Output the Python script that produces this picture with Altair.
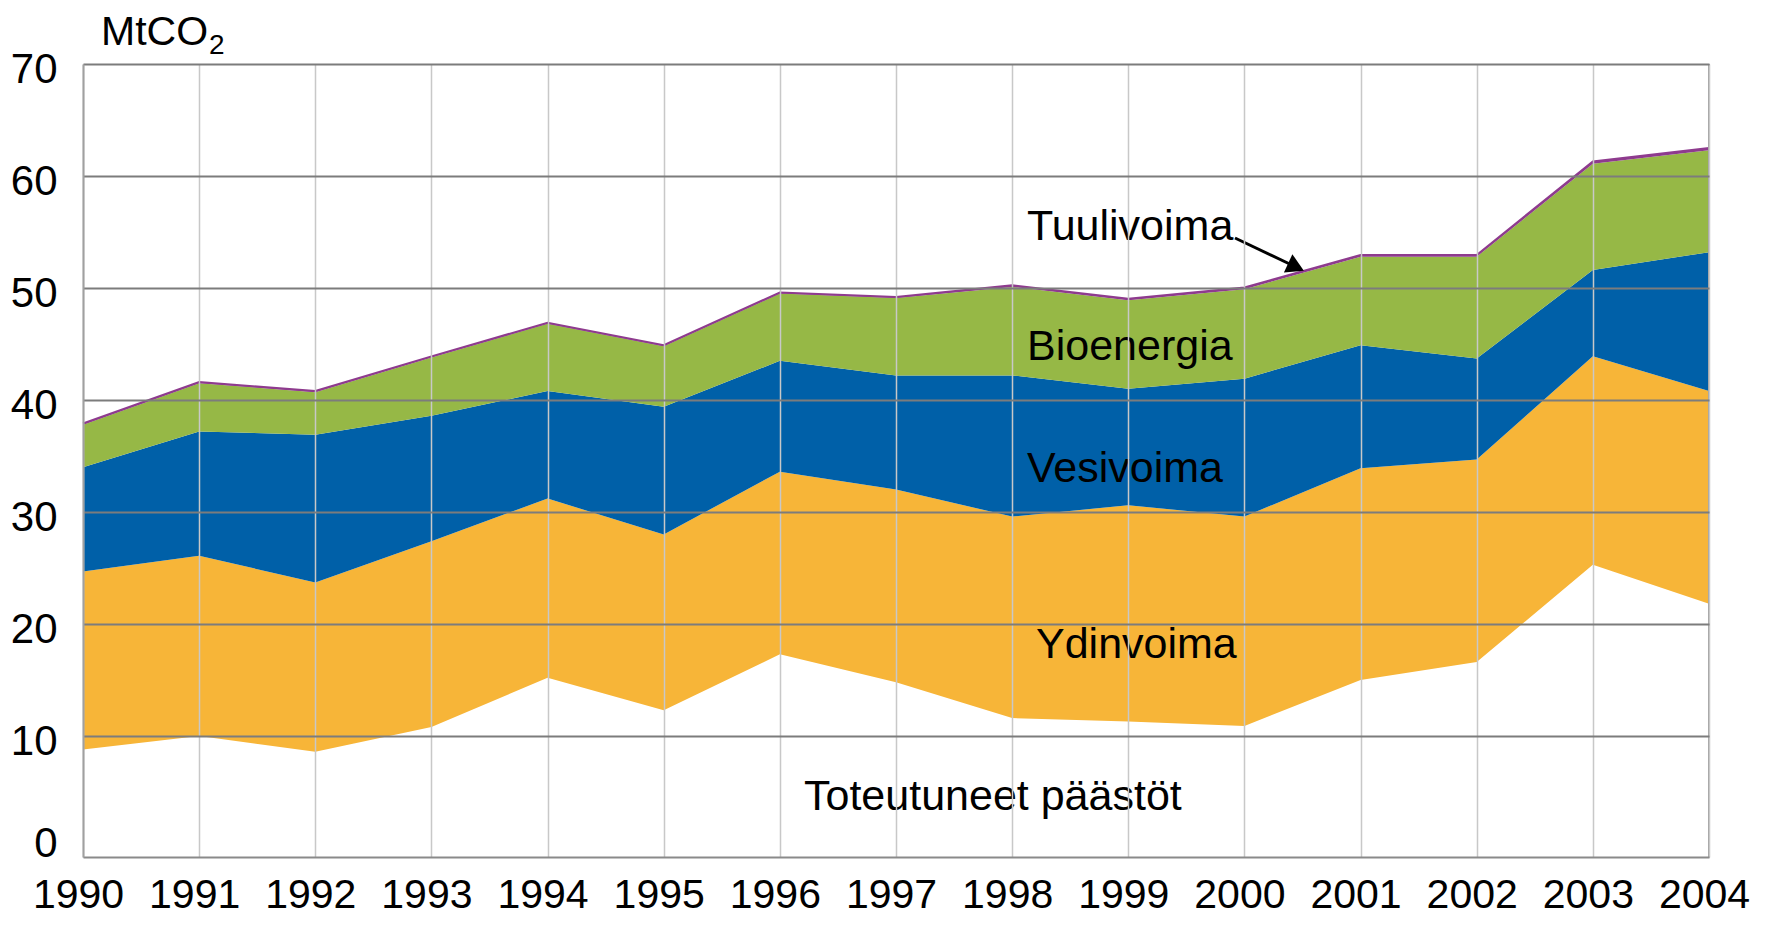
import altair as alt
import pandas as pd

FONT = "Liberation Sans"

years = list(range(1990, 2005))
series = ["Toteutuneet päästöt", "Ydinvoima", "Vesivoima", "Bioenergia", "Tuulivoima"]
colors = ["#ffffff", "#F7B538", "#0060A8", "#96B846", "#8E3B8E"]

toteutuneet = [8.8, 10.0, 8.6, 10.8, 15.2, 12.3, 17.3, 14.8, 11.6, 11.3, 10.9, 15.0, 16.6, 25.3, 21.8]
ydinvoima = [15.9, 16.1, 15.1, 16.6, 16.0, 15.7, 16.3, 17.2, 18.0, 19.3, 18.7, 18.9, 18.1, 18.6, 19.0]
vesivoima = [9.3, 11.1, 13.2, 11.2, 9.6, 11.4, 9.9, 10.2, 12.6, 10.4, 12.3, 11.0, 9.0, 7.7, 12.4]
bioenergia = [3.8, 4.3, 3.8, 5.2, 6.0, 5.4, 6.0, 6.9, 7.9, 7.9, 8.0, 7.9, 9.1, 9.5, 9.1]
tuulivoima = [0.1, 0.1, 0.1, 0.1, 0.1, 0.1, 0.1, 0.1, 0.15, 0.15, 0.15, 0.15, 0.15, 0.2, 0.2]

y_ticks = [0, 10, 20, 30, 40, 50, 60, 70]

rows = []
for order, (name, vals) in enumerate(zip(series, [toteutuneet, ydinvoima, vesivoima, bioenergia, tuulivoima])):
    for yr, v in zip(years, vals):
        rows.append({"year": yr, "serie": name, "value": v, "order": order})
df = pd.DataFrame(rows)

W, H = 1626, 793
AX_FS = 42
LB_FS = 43

base = alt.Chart(df).transform_stack(
    stack="value", groupby=["year"], as_=["y0", "y1"],
    sort=[alt.SortField("order", order="ascending")]
)

x_enc = alt.X(
    "year:Q",
    scale=alt.Scale(domain=[1990, 2004], nice=False, zero=False),
    axis=alt.Axis(
        values=years, format="d", title=None,
        labelFont=FONT, labelFontSize=41, labelColor="#000000",
        labelPadding=18, labelOffset=-5, labelFlush=False,
        ticks=False, tickSize=0,
        grid=True, gridColor="#c8c8c8", gridWidth=1.5,
        domainColor="#8a8a8a", domainWidth=2, zindex=1,
    ),
)
y_enc = alt.Y(
    "y1:Q",
    scale=alt.Scale(domain=[-0.8, 70], nice=False, zero=False),
    axis=alt.Axis(
        values=y_ticks, title=None,
        labelFont=FONT, labelFontSize=AX_FS, labelColor="#000000",
        labelPadding=26,
        labelOffset={"condition": {"test": "datum.value === 0", "value": -5}, "value": 5},
        ticks=False, tickSize=0,
        grid=True,
        gridColor={"condition": {"test": "datum.value === 0", "value": "transparent"}, "value": "#7c7c7c"},
        gridWidth=2,
        domainColor="#a0a0a0", domainWidth=2, zindex=1,
    ),
)

areas = base.mark_area(interpolate="linear").encode(
    x=x_enc,
    y=y_enc,
    y2="y0:Q",
    color=alt.Color("serie:N", scale=alt.Scale(domain=series, range=colors), legend=None),
)

top_line = base.transform_filter(alt.datum.serie == "Tuulivoima").mark_line(
    color="#8E3B8E", strokeWidth=2
).encode(x="year:Q", y="y1:Q")

one = pd.DataFrame({"a": [0]})

frame_right = alt.Chart(one).mark_rule(color="#a0a0a0", strokeWidth=2).encode(
    x=alt.value(W), y=alt.value(0), y2=alt.value(H)
)


def label(txt, x, y, size=LB_FS, align="left"):
    return alt.Chart(one).mark_text(
        text=txt, font=FONT, fontSize=size, color="#000000", align=align, baseline="alphabetic"
    ).encode(x=alt.value(x), y=alt.value(y))


texts = [
    label("MtCO", 18, -19, size=41),
    label("2", 126, -10, size=28),
    label("Tuulivoima", 944, 176),
    label("Bioenergia", 944, 296),
    label("Vesivoima", 944, 418),
    label("Ydinvoima", 953, 594),
    label("Toteutuneet päästöt", 721, 746),
]

arrow_line = alt.Chart(one).mark_rule(color="#000000", strokeWidth=3).encode(
    x=alt.value(1152), y=alt.value(174), x2=alt.value(1213), y2=alt.value(203)
)
arrow_head = alt.Chart(one).mark_point(
    shape="triangle-up", filled=True, size=400, angle=115, color="#000000", opacity=1
).encode(x=alt.value(1213), y=alt.value(203))

chart = alt.layer(areas, top_line, frame_right, arrow_line, arrow_head, *texts).properties(
    width=W, height=H,
    autosize=alt.AutoSizeParams(type="none"),
    padding={"left": 75, "top": 56, "right": 58, "bottom": 60},
).configure_view(stroke=None).configure(background="#ffffff")

chart.save("out.html", embed_options={"renderer": "svg", "actions": False})
